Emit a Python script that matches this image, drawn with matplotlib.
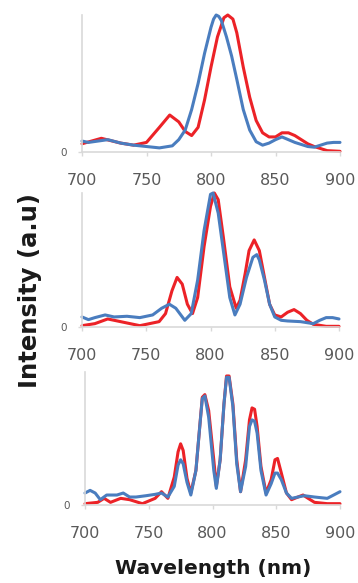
import matplotlib
matplotlib.use("Agg")
import matplotlib.pyplot as plt

# Panel 1
wl1_red = [700, 715, 730, 740, 750, 760, 768, 775, 780, 785, 790, 795, 800, 805, 810, 813, 817, 820, 825, 830, 835, 840, 845, 850, 855, 860, 865, 870, 875, 880, 890, 900]
int1_red = [0.06, 0.10, 0.065, 0.05, 0.07, 0.18, 0.27, 0.22, 0.15, 0.12, 0.18, 0.38, 0.62, 0.84, 0.98, 1.0, 0.97, 0.87, 0.62, 0.40, 0.23, 0.14, 0.11, 0.11, 0.14, 0.14, 0.12, 0.09, 0.06, 0.04, 0.01, 0.005]
wl1_blue = [700, 705, 720, 730, 740, 750, 760, 770, 775, 780, 785, 790, 795, 800, 802, 804, 806, 808, 812, 816, 820, 825, 830, 835, 840, 845, 850, 855, 860, 865, 870, 875, 880, 885, 890, 895, 900]
int1_blue = [0.08, 0.07, 0.09, 0.065, 0.05, 0.04, 0.03, 0.045, 0.09, 0.16, 0.31, 0.50, 0.72, 0.91, 0.97, 1.0, 0.99, 0.96, 0.84, 0.70, 0.53, 0.31, 0.16, 0.075, 0.05, 0.065, 0.09, 0.11, 0.09, 0.07, 0.055, 0.04, 0.035, 0.05, 0.065, 0.07, 0.07]

# Panel 2
wl2_red = [700, 710, 720, 730, 740, 745, 750, 760, 765, 770, 774, 778, 782, 786, 790, 795, 800, 803, 806, 810, 815, 820, 823, 827, 830, 834, 838, 842, 846, 850, 855, 860, 865, 870, 875, 880, 890, 900]
int2_red = [0.01, 0.025, 0.06, 0.04, 0.02, 0.01, 0.02, 0.04, 0.10, 0.27, 0.37, 0.32, 0.17, 0.10, 0.22, 0.60, 0.90, 1.0, 0.95, 0.67, 0.30, 0.14, 0.20, 0.40, 0.57, 0.65, 0.57, 0.37, 0.17, 0.09, 0.075, 0.11, 0.13, 0.10, 0.05, 0.02, 0.005, 0.005]
wl2_blue = [700, 705, 710, 718, 725, 735, 745, 755, 762, 768, 773, 780, 785, 790, 795, 800, 802, 806, 810, 815, 819, 823, 828, 833, 836, 838, 842, 846, 850, 855, 860, 870, 880, 885, 890, 895, 900]
int2_blue = [0.075, 0.055, 0.07, 0.09, 0.075, 0.08, 0.07, 0.09, 0.14, 0.17, 0.14, 0.05, 0.10, 0.35, 0.72, 0.99, 1.0, 0.85, 0.57, 0.22, 0.09, 0.17, 0.37, 0.52, 0.54, 0.50, 0.35, 0.17, 0.075, 0.05, 0.045, 0.04, 0.025, 0.05, 0.07, 0.07, 0.06]

# Panel 3
wl3_red = [700, 710, 715, 720, 728, 735, 745, 755, 760, 765, 770, 773, 775, 777, 780, 783, 787, 790, 792, 794, 797, 801, 803, 806, 809, 811, 813, 816, 819, 822, 826, 829, 831, 833, 835, 838, 842, 846, 849, 851, 854, 858, 862, 867, 871, 875, 880, 890, 900]
int3_red = [0.01, 0.02, 0.05, 0.02, 0.05, 0.04, 0.01, 0.05, 0.10, 0.05, 0.21, 0.40, 0.46, 0.41, 0.20, 0.09, 0.26, 0.59, 0.81, 0.83, 0.71, 0.34, 0.14, 0.34, 0.76, 0.97, 0.97, 0.76, 0.34, 0.10, 0.34, 0.64, 0.73, 0.72, 0.59, 0.29, 0.09, 0.19, 0.34, 0.35, 0.24, 0.09, 0.04, 0.06, 0.075, 0.05, 0.02, 0.01, 0.01]
wl3_blue = [700, 704, 708, 712, 717, 725, 730, 735, 740, 748, 755, 760, 765, 770, 773, 775, 777, 780, 783, 787, 790, 792, 794, 797, 801, 803, 806, 809, 811, 813, 816, 819, 822, 826, 829, 831, 833, 835, 838, 842, 846, 849, 851, 854, 858, 862, 867, 872, 880, 890, 895, 900]
int3_blue = [0.09, 0.11, 0.09, 0.04, 0.075, 0.075, 0.09, 0.06, 0.06, 0.07, 0.08, 0.09, 0.06, 0.14, 0.30, 0.34, 0.31, 0.17, 0.075, 0.26, 0.59, 0.80, 0.82, 0.66, 0.26, 0.125, 0.34, 0.76, 0.96, 0.96, 0.74, 0.31, 0.10, 0.29, 0.59, 0.64, 0.63, 0.54, 0.26, 0.075, 0.16, 0.24, 0.24, 0.19, 0.09, 0.05, 0.06, 0.07, 0.06, 0.05, 0.075, 0.10]

xticks = [700, 750, 800, 850, 900]
yticks = [0]

RED = "#ec2227"
BLUE = "#4a7dbf"
GRAY = "#d9d9d9"
TXT = "#595959"

W, H = 358, 583
fig = plt.figure(figsize=(W / 100, H / 100), dpi=100)

boxes = [(82, 340, 15, 152), (82, 339, 193, 327), (85, 340, 372, 505)]
panels = [
    (wl1_red, int1_red, wl1_blue, int1_blue),
    (wl2_red, int2_red, wl2_blue, int2_blue),
    (wl3_red, int3_red, wl3_blue, int3_blue),
]

for (x0, x1, yt, yb), (wr, ir, wb, ib) in zip(boxes, panels):
    ax = fig.add_axes([x0 / W, 1 - yb / H, (x1 - x0) / W, (yb - yt) / H])
    ax.plot(wr, ir, color=RED, lw=2.2, solid_joinstyle="round", solid_capstyle="round", clip_on=False)
    ax.plot(wb, ib, color=BLUE, lw=2.2, solid_joinstyle="round", solid_capstyle="round", clip_on=False)
    ax.set_xlim(700, 900)
    ax.set_ylim(0, 1.0)
    for s in ["top", "right"]:
        ax.spines[s].set_visible(False)
    for s in ["left", "bottom"]:
        ax.spines[s].set_color(GRAY)
        ax.spines[s].set_linewidth(1.2)
    ax.set_xticks(xticks)
    ax.set_xticklabels([str(t) for t in xticks])
    ax.set_yticks(yticks)
    ax.set_yticklabels([str(t) for t in yticks])
    ax.tick_params(axis="x", colors=GRAY, labelcolor=TXT, labelsize=11.5, length=3, width=1, pad=12)
    ax.tick_params(axis="y", colors=GRAY, labelcolor=TXT, labelsize=7.5, length=3, width=1, pad=8)
    ax.set_facecolor("none")

fig.text(213 / W, 1 - 569 / H, "Wavelength (nm)", ha="center", va="center",
         fontsize=14.5, fontweight="bold", color="#1a1a1a")
fig.text(30 / W, 1 - 291 / H, "Intensity (a.u)", ha="center", va="center",
         rotation=90, fontsize=17.5, fontweight="bold", color="#1a1a1a")

fig.savefig("out.png", dpi=100)
